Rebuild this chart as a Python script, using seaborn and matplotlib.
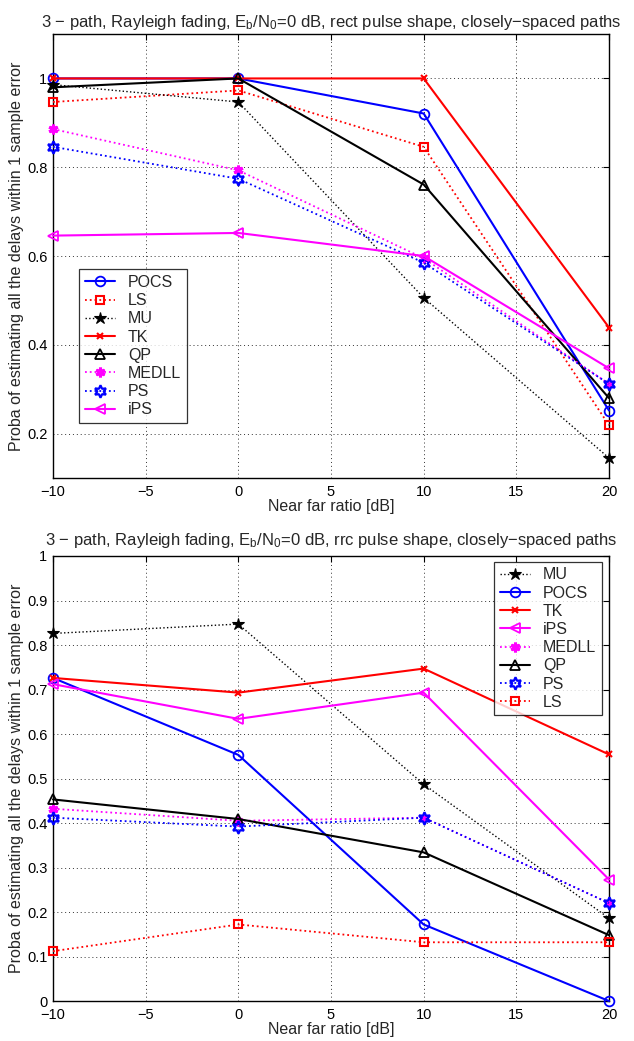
import matplotlib
matplotlib.use("Agg")
import matplotlib.pyplot as plt
import seaborn as sns
import numpy as np

# ---------------- data ----------------
x_db = [-10, 0, 10, 20]

# top: rect pulse shape
top_order = ["POCS", "LS", "MU", "TK", "QP", "MEDLL", "PS", "iPS"]
top_POCS = [1.0, 1.0, 0.921, 0.252]
top_LS = [0.947, 0.973, 0.846, 0.219]
top_MU = [0.986, 0.947, 0.506, 0.145]
top_TK = [1.0, 1.0, 1.0, 0.439]
top_QP = [0.980, 1.0, 0.761, 0.280]
top_MEDLL = [0.886, 0.793, 0.595, 0.312]
top_PS = [0.846, 0.774, 0.585, 0.312]
top_iPS = [0.646, 0.652, 0.600, 0.347]

# bottom: rrc pulse shape
bot_order = ["MU", "POCS", "TK", "iPS", "MEDLL", "QP", "PS", "LS"]
bot_MU = [0.826, 0.847, 0.487, 0.186]
bot_POCS = [0.726, 0.553, 0.172, 0.0]
bot_TK = [0.726, 0.693, 0.747, 0.554]
bot_iPS = [0.712, 0.634, 0.693, 0.273]
bot_MEDLL = [0.432, 0.405, 0.412, 0.220]
bot_QP = [0.453, 0.409, 0.334, 0.148]
bot_PS = [0.412, 0.392, 0.412, 0.220]
bot_LS = [0.112, 0.172, 0.132, 0.132]

top_data = {"POCS": top_POCS, "LS": top_LS, "MU": top_MU, "TK": top_TK,
            "QP": top_QP, "MEDLL": top_MEDLL, "PS": top_PS, "iPS": top_iPS}
bot_data = {"MU": bot_MU, "POCS": bot_POCS, "TK": bot_TK, "iPS": bot_iPS,
            "MEDLL": bot_MEDLL, "QP": bot_QP, "PS": bot_PS, "LS": bot_LS}

x_ticks = [-10, -5, 0, 5, 10, 15, 20]
top_yticks = [0.2, 0.4, 0.6, 0.8, 1.0]
top_yticklabels = ["0.2", "0.4", "0.6", "0.8", "1"]
bot_yticks = [0, 0.1, 0.2, 0.3, 0.4, 0.5, 0.6, 0.7, 0.8, 0.9, 1.0]
bot_yticklabels = ["0", "0.1", "0.2", "0.3", "0.4", "0.5", "0.6", "0.7", "0.8", "0.9", "1"]

# ---------------- styles ----------------
styles = {
    "POCS": dict(color="#0000ff", linestyle="-", marker="o", mfc="none", ms=7, mew=1.3, lw=1.5),
    "LS": dict(color="#ff0000", linestyle=":", marker="s", mfc="none", ms=6, mew=1.5, lw=1.3),
    "MU": dict(color="#000000", linestyle=":", marker="*", mfc="#000000", ms=9, mew=0.8, lw=1.0),
    "TK": dict(color="#ff0000", linestyle="-", marker="x", mfc="none", ms=5, mew=1.5, lw=1.5),
    "QP": dict(color="#000000", linestyle="-", marker="^", mfc="none", ms=7, mew=1.3, lw=1.5),
    "MEDLL": dict(color="#ff00ff", linestyle=":", marker=(6, 2, 0), mfc="#ff00ff", ms=7, mew=2.2, lw=1.3),
    "PS": dict(color="#0000ff", linestyle=":", marker=(6, 1, 0), mfc="none", ms=9, mew=1.6, lw=1.3),
    "iPS": dict(color="#ff00ff", linestyle="-", marker="<", mfc="none", ms=7, mew=1.3, lw=1.5),
}

sns.set_style("white")
plt.rcParams["font.family"] = ["Liberation Sans", "DejaVu Sans"]
plt.rcParams["mathtext.fontset"] = "custom"
plt.rcParams["mathtext.rm"] = "Liberation Sans"
plt.rcParams["mathtext.it"] = "Liberation Sans:italic"

fig = plt.figure(figsize=(6.34, 10.41), dpi=100)
ax1 = fig.add_axes([0.0836, 0.5408, 0.877, 0.4265])
ax2 = fig.add_axes([0.0836, 0.0384, 0.877, 0.4275])


def draw(ax, data, order):
    for name in order:
        st = styles[name]
        sns.lineplot(x=x_db, y=data[name], ax=ax, label=name,
                     color=st["color"], linestyle=st["linestyle"], marker=st["marker"],
                     markerfacecolor=st["mfc"], markeredgecolor=st["color"],
                     markersize=st["ms"], markeredgewidth=st["mew"], linewidth=st["lw"],
                     clip_on=False, zorder=3)
    ax.set_xlim(-10, 20)
    ax.set_xticks(x_ticks)
    ax.set_xticklabels([str(t).replace("-", "\u2212") for t in x_ticks])
    ax.grid(True, linestyle=(0, (1, 3)), color="#333333", linewidth=0.7)
    ax.tick_params(direction="in", length=4, width=0.8, top=True, right=True,
                   labelsize=10.5, colors="black")
    ax.tick_params(axis="x", pad=5)
    ax.tick_params(axis="y", pad=4)
    for sp in ax.spines.values():
        sp.set_color("black")
        sp.set_linewidth(1.0)
        sp.set_visible(True)
    ax.set_xlabel("Near far ratio [dB]", fontsize=11.5, labelpad=0)
    ax.set_ylabel("Proba of estimating all the delays within 1 sample error", fontsize=11.5, labelpad=2)


def legend(ax, **kw):
    leg = ax.legend(borderaxespad=0, fontsize=11.5, frameon=True, fancybox=False,
                    edgecolor="black", handlelength=1.9, labelspacing=0.2,
                    borderpad=0.35, handletextpad=0.8, **kw)
    leg.get_frame().set_linewidth(0.9)
    return leg


draw(ax1, top_data, top_order)
ax1.set_ylim(0.1, 1.1)
ax1.set_yticks(top_yticks)
ax1.set_yticklabels(top_yticklabels)
ax1.set_title(r"3 $\mathrm{-}$ path, Rayleigh fading, E$_\mathrm{b}$/N$_\mathrm{0}$=0 dB, rect pulse shape, closely$-$spaced paths",
              fontsize=12, pad=5)
legend(ax1, loc="lower left", bbox_to_anchor=(0.047, 0.124))

draw(ax2, bot_data, bot_order)
ax2.set_ylim(0, 1)
ax2.set_yticks(bot_yticks)
ax2.set_yticklabels(bot_yticklabels)
ax2.set_title(r"3 $\mathrm{-}$ path, Rayleigh fading, E$_\mathrm{b}$/N$_\mathrm{0}$=0 dB, rrc pulse shape, closely$-$spaced paths",
              fontsize=12, pad=8)
legend(ax2, loc="upper right", bbox_to_anchor=(0.987, 0.987))

fig.savefig("out.png", dpi=100)
